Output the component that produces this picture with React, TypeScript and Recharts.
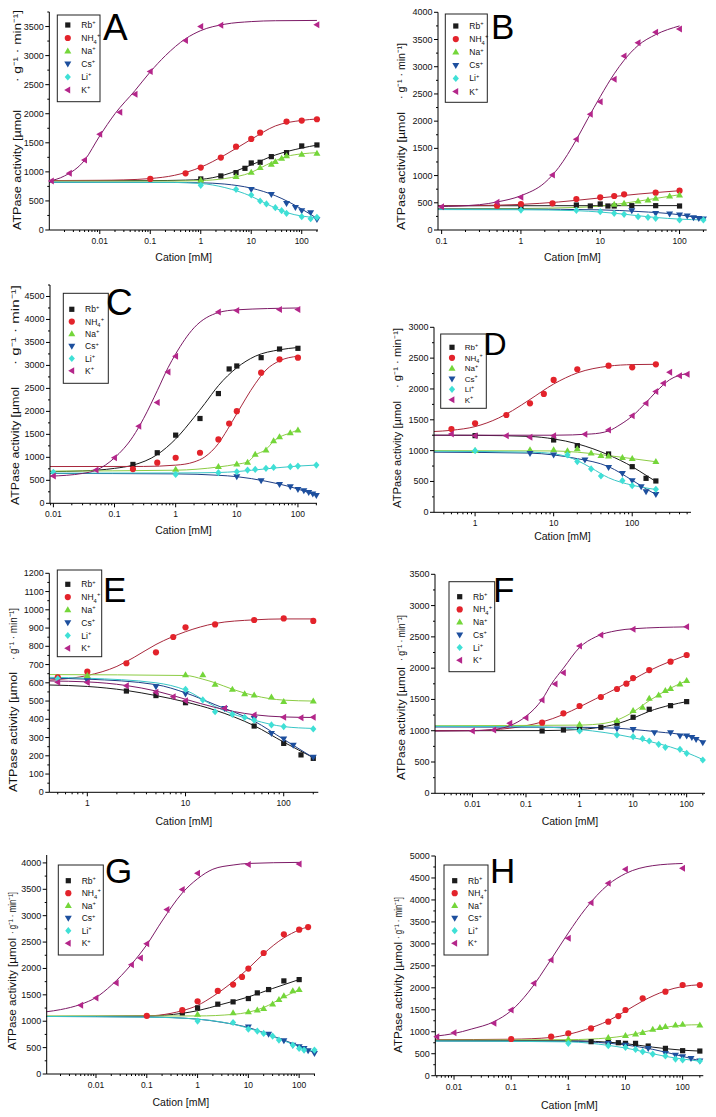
import React from 'react';
import { ComposedChart, Line, Scatter, XAxis, YAxis } from 'recharts';

type Pt = [number, number];

// ---------------- Panel A ----------------
const aRb: Pt[] = [[1,878],[2.5,930],[5,987],[7.5,1061],[10,1153],[15,1165],[25,1262],[50,1331],[100,1446],[200,1463]];
const aRbFit: Pt[] = [[0.001,850],[0.1,850],[0.5,858],[1,870],[3,950],[10,1120],[30,1290],[100,1410],[200,1460]];
const aNH4: Pt[] = [[0.1,878],[0.5,975],[1,1073],[2.5,1245],[5,1434],[10,1566],[15,1675],[50,1865],[100,1882],[200,1905]];
const aNH4Fit: Pt[] = [[0.001,850],[0.01,855],[0.03,862],[0.1,885],[0.3,940],[1,1080],[3,1290],[10,1560],[30,1790],[100,1885],[200,1910]];
const aNa: Pt[] = [[1,860],[5,918],[10,993],[15,1073],[25,1130],[30,1176],[40,1234],[50,1274],[100,1302],[200,1320]];
const aNaFit: Pt[] = [[0.001,840],[0.3,842],[1,850],[3,885],[10,990],[20,1120],[50,1265],[100,1310],[200,1330]];
const aCs: Pt[] = [[10,700],[25,614],[50,459],[75,390],[100,333],[150,298],[200,184]];
const aCsFit: Pt[] = [[0.001,820],[0.3,818],[1,812],[3,790],[10,720],[30,590],[100,360],[200,200]];
const aLi: Pt[] = [[1,769],[5,700],[10,602],[15,499],[20,448],[30,384],[40,333],[50,287],[100,230],[150,195],[200,218]];
const aLiFit: Pt[] = [[0.001,822],[0.3,818],[1,800],[3,730],[10,580],[20,450],[50,300],[100,240],[200,212]];
const aK: Pt[] = [[0.0011,843],[0.0025,975],[0.005,1205],[0.01,1647],[0.025,2026],[0.05,2335],[0.1,2725],[0.5,3259],[1,3500],[2.5,3523],[200,3529]];
const aKFit: Pt[] = [[0.001,840],[0.002,930],[0.005,1200],[0.01,1620],[0.02,2000],[0.05,2400],[0.1,2720],[0.2,3000],[0.5,3290],[1,3430],[3,3540],[10,3585],[30,3600],[200,3605]];

// ---------------- Panel B ----------------
const bRb: Pt[] = [[1,430],[5,459],[7.5,441],[10,478],[12.5,441],[15,441],[25,447],[50,447],[100,441]];
const bRbFit: Pt[] = [[0.09,445],[100,448]];
const bNH4: Pt[] = [[0.5,447],[1,478],[2.5,490],[5,570],[10,600],[15,625],[20,655],[50,686],[100,723]];
const bNH4Fit: Pt[] = [[0.09,440],[0.3,450],[1,470],[3,515],[10,590],[30,660],[100,722]];
const bNa: Pt[] = [[15,472],[20,490],[30,533],[40,551],[50,582],[75,625],[100,643]];
const bNaFit: Pt[] = [[0.09,390],[1,395],[5,415],[10,440],[20,492],[50,580],[100,648]];
const bCs: Pt[] = [[25,355],[50,306],[75,294],[100,276],[125,257],[150,227],[175,214],[200,202]];
const bCsFit: Pt[] = [[0.09,385],[1,383],[10,370],[30,340],[100,280],[200,205]];
const bLi: Pt[] = [[1,367],[5,361],[10,337],[15,306],[20,288],[30,245],[40,233],[50,214],[100,184],[200,184]];
const bLiFit: Pt[] = [[0.09,375],[1,372],[5,355],[10,330],[20,290],[50,230],[100,200],[200,185]];
const bK: Pt[] = [[0.1,429],[0.5,508],[1,600],[2.5,1011],[5,1666],[7.5,2125],[10,2358],[15,2768],[20,3197],[30,3442],[50,3632],[100,3693]];
const bKFit: Pt[] = [[0.09,430],[0.3,465],[0.5,515],[1,630],[2,870],[2.5,1010],[3,1150],[5,1660],[7,2050],[10,2450],[15,2870],[20,3120],[30,3390],[50,3590],[100,3750]];

// ---------------- Panel C ----------------
const cRb: Pt[] = [[0.2,846],[0.5,1100],[1,1483],[2.5,1845],[5,2388],[7.5,2923],[10,2988],[25,3169],[50,3357],[100,3372]];
const cRbFit: Pt[] = [[0.0088,690],[0.03,705],[0.1,760],[0.2,830],[0.5,1060],[1,1400],[2,1870],[3,2170],[5,2560],[10,2950],[20,3200],[50,3340],[100,3390]];
const cNH4: Pt[] = [[0.2,745],[0.5,883],[1,991],[2.5,1100],[5,1389],[7.5,1736],[10,2004],[25,2843],[50,3133],[100,3169]];
const cNH4Fit: Pt[] = [[0.0088,800],[0.3,802],[1,830],[2,900],[3,1010],[5,1300],[7,1600],[10,1950],[20,2600],[30,2900],[50,3100],[100,3200]];
const cNa: Pt[] = [[1,738],[5,796],[10,854],[15,890],[20,1064],[30,1158],[40,1360],[50,1447],[75,1534],[100,1592]];
const cNaFit: Pt[] = [[0.0088,700],[1,720],[5,790],[10,850],[15,900],[20,1050],[30,1170],[40,1350],[50,1440],[75,1530],[100,1595]];
const cCs: Pt[] = [[10,579],[25,492],[50,412],[75,362],[100,304],[125,275],[150,239],[175,203],[200,174]];
const cCsFit: Pt[] = [[0.0088,650],[1,640],[5,610],[10,580],[30,480],[100,310],[200,170]];
const cLi: Pt[] = [[0.01,673],[1,629],[5,666],[10,687],[15,724],[20,738],[30,760],[40,781],[75,796],[100,810],[200,832]];
const cLiFit: Pt[] = [[0.0088,655],[1,660],[5,670],[10,690],[30,750],[100,810],[200,832]];
const cK: Pt[] = [[0.01,593],[0.05,723],[0.1,991],[0.25,1678],[0.5,2192],[0.75,2858],[1,3198],[5,4160],[10,4196],[50,4218],[100,4218]];
const cKFit: Pt[] = [[0.0088,590],[0.03,650],[0.05,720],[0.1,990],[0.2,1450],[0.3,1850],[0.5,2450],[0.75,2950],[1,3250],[2,3820],[5,4150],[10,4210],[100,4250]];

// ---------------- Panel D ----------------
const dRb: Pt[] = [[1,1243],[10,1173],[20,1081],[50,946],[100,740],[150,551],[200,508]];
const dRbFit: Pt[] = [[0.3,1250],[1,1248],[5,1230],[10,1190],[20,1110],[50,930],[100,740],[150,600],[200,500]];
const dNH4: Pt[] = [[0.5,1351],[1,1443],[2.5,1578],[5,1767],[7.5,1919],[10,2146],[20,2319],[50,2378],[100,2351],[200,2400]];
const dNH4Fit: Pt[] = [[0.3,1310],[0.5,1330],[1,1390],[2,1530],[3,1650],[5,1830],[10,2080],[20,2260],[50,2370],[100,2395],[200,2400]];
const dNa: Pt[] = [[1,1000],[5,1011],[10,1011],[15,995],[20,1027],[30,962],[40,919],[50,913],[75,886],[100,870],[200,822]];
const dNaFit: Pt[] = [[0.3,1000],[10,995],[20,975],[50,920],[100,870],[200,820]];
const dCs: Pt[] = [[5,957],[10,930],[25,849],[50,730],[75,632],[100,513],[130,416],[150,335],[200,292]];
const dCsFit: Pt[] = [[0.3,975],[5,960],[10,930],[20,870],[50,740],[100,520],[150,380],[200,290]];
const dLi: Pt[] = [[1,1000],[15,930],[20,822],[30,703],[40,589],[75,513],[100,432],[200,373]];
const dLiFit: Pt[] = [[0.3,990],[5,975],[10,950],[15,900],[20,840],[30,720],[50,560],[100,440],[200,370]];
const dK: Pt[] = [[0.5,1270],[1,1243],[2.5,1243],[5,1216],[10,1243],[25,1265],[50,1335],[100,1567],[150,1767],[200,1957],[250,2092],[300,2270],[400,2216],[500,2238]];
const dKFit: Pt[] = [[0.3,1250],[10,1250],[30,1270],[50,1320],[70,1420],[100,1560],[150,1780],[200,1950],[300,2150],[500,2250]];

// ---------------- Panel E ----------------
const eRb: Pt[] = [[2.5,555],[5,530],[10,491],[50,363],[100,268],[150,205],[200,186]];
const eRbFit: Pt[] = [[0.41,588],[1,580],[2.5,558],[5,530],[10,495],[20,450],[50,365],[100,275],[200,190]];
const eNH4: Pt[] = [[0.5,630],[1,661],[2.5,707],[5,767],[7.5,851],[10,904],[20,920],[50,944],[100,953],[200,939]];
const eNH4Fit: Pt[] = [[0.41,615],[0.5,618],[1,640],[2,690],[3,740],[5,810],[10,880],[20,925],[50,945],[100,950],[200,950]];
const eNa: Pt[] = [[1,639],[10,643],[15,643],[20,592],[30,564],[40,539],[50,533],[75,521],[100,497],[200,500]];
const eNaFit: Pt[] = [[0.41,645],[10,640],[15,620],[20,600],[30,565],[50,530],[100,505],[200,500]];
const eCs: Pt[] = [[1,612],[5,579],[10,539],[25,460],[50,405],[75,323],[100,292],[125,259],[200,192]];
const eCsFit: Pt[] = [[0.41,625],[1,620],[5,590],[10,545],[20,480],[50,390],[100,290],[200,190]];
const eLi: Pt[] = [[0.5,622],[10,564],[15,506],[20,442],[30,427],[40,411],[50,396],[75,369],[100,360],[200,347]];
const eLiFit: Pt[] = [[0.41,630],[1,625],[5,600],[10,560],[20,470],[30,430],[50,395],[100,360],[200,350]];
const eK: Pt[] = [[0.5,603],[1,601],[2.5,584],[5,548],[7.5,524],[10,502],[25,460],[50,424],[100,411],[150,409],[200,411]];
const eKFit: Pt[] = [[0.41,610],[1,605],[2.5,585],[5,555],[10,510],[20,465],[50,425],[100,413],[200,410]];

// ---------------- Panel F ----------------
const fRb: Pt[] = [[0.2,996],[0.5,1012],[1,1023],[2.5,1055],[5,1119],[10,1215],[20,1343],[50,1401],[100,1465]];
const fRbFit: Pt[] = [[0.002,1000],[0.2,1002],[1,1020],[2,1045],[5,1110],[10,1200],[20,1310],[50,1410],[100,1465]];
const fNH4: Pt[] = [[0.2,1129],[0.5,1278],[1,1395],[2.5,1539],[5,1667],[7.5,1752],[10,1842],[20,1970],[50,2103],[100,2210]];
const fNH4Fit: Pt[] = [[0.002,1000],[0.01,1003],[0.05,1040],[0.1,1080],[0.2,1140],[0.5,1260],[1,1380],[2,1510],[5,1680],[10,1820],[20,1960],[50,2110],[100,2210]];
const fNa: Pt[] = [[1,1103],[5,1161],[10,1321],[15,1374],[20,1518],[30,1571],[40,1640],[50,1672],[75,1747],[100,1800]];
const fNaFit: Pt[] = [[0.002,1080],[1,1090],[3,1120],[5,1170],[10,1300],[20,1480],[50,1680],[100,1800]];
const fCs: Pt[] = [[5,1034],[10,1023],[25,970],[50,970],[75,916],[100,916],[125,895],[150,863],[200,810]];
const fCsFit: Pt[] = [[0.002,1060],[1,1055],[5,1040],[10,1020],[30,980],[100,920],[200,830]];
const fLi: Pt[] = [[1,996],[5,932],[10,905],[15,873],[20,836],[30,783],[40,735],[75,703],[100,639],[200,532]];
const fLiFit: Pt[] = [[0.002,1070],[0.1,1065],[1,1020],[3,970],[5,940],[10,890],[20,830],[50,740],[100,650],[200,540]];
const fK: Pt[] = [[0.01,996],[0.025,1012],[0.05,1119],[0.1,1209],[0.2,1491],[0.35,1747],[0.5,1928],[1,2354],[2.5,2530],[10,2620],[100,2663]];
const fKFit: Pt[] = [[0.002,995],[0.01,1000],[0.03,1030],[0.05,1080],[0.1,1230],[0.2,1500],[0.3,1750],[0.5,2000],[1,2330],[2,2500],[5,2600],[10,2630],[100,2660]];

// ---------------- Panel G ----------------
const gRb: Pt[] = [[0.5,1159],[1,1253],[2.5,1323],[5,1367],[10,1430],[15,1537],[25,1600],[50,1764],[100,1789]];
const gRbFit: Pt[] = [[0.00107,1090],[0.1,1100],[0.5,1150],[1,1200],[3,1320],[10,1460],[30,1620],[100,1790]];
const gNH4: Pt[] = [[0.1,1102],[0.5,1209],[1,1379],[2.5,1575],[5,1694],[7.5,1839],[10,1997],[20,2293],[50,2646],[100,2734],[150,2784]];
const gNH4Fit: Pt[] = [[0.00107,1090],[0.1,1100],[0.3,1150],[0.5,1200],[1,1300],[2,1470],[5,1750],[10,2000],[20,2280],[50,2580],[100,2730],[150,2790]];
const gNa: Pt[] = [[1,1128],[5,1159],[10,1178],[15,1209],[20,1241],[30,1323],[40,1411],[50,1480],[75,1575],[100,1600]];
const gNaFit: Pt[] = [[0.00107,1100],[1,1100],[5,1130],[10,1170],[20,1260],[50,1460],[100,1600]];
const gCs: Pt[] = [[10,894],[25,756],[50,630],[75,548],[100,517],[125,485],[150,441],[200,391]];
const gCsFit: Pt[] = [[0.00107,1090],[0.1,1080],[1,1040],[3,980],[10,880],[30,720],[100,530],[200,400]];
const gLi: Pt[] = [[1,1002],[5,976],[10,850],[15,813],[20,768],[30,718],[40,643],[75,548],[100,485],[125,454],[200,454]];
const gLiFit: Pt[] = [[0.00107,1090],[0.1,1078],[1,1040],[10,870],[30,710],[100,520],[200,420]];
const gK: Pt[] = [[0.005,1304],[0.01,1442],[0.025,1726],[0.05,2072],[0.075,2198],[0.1,2469],[0.25,3118],[0.5,3496],[1,3805],[10,3968],[100,3981]];
const gKFit: Pt[] = [[0.00107,1180],[0.002,1220],[0.005,1320],[0.01,1450],[0.02,1680],[0.05,2080],[0.1,2450],[0.2,2900],[0.5,3430],[1,3700],[2,3880],[5,3960],[10,3990],[100,4010]];

// ---------------- Panel H ----------------
const hRb: Pt[] = [[2.5,774],[5,759],[7.5,751],[10,736],[15,736],[25,675],[50,622],[100,569],[200,561]];
const hRbFit: Pt[] = [[0.0047,800],[1,795],[3,780],[10,730],[30,650],[100,580],[200,560]];
const hNH4: Pt[] = [[0.1,835],[0.5,888],[1,964],[2.5,1077],[5,1229],[7.5,1358],[10,1495],[20,1760],[50,1912],[100,2064],[200,2064]];
const hNH4Fit: Pt[] = [[0.0047,820],[0.1,830],[0.5,870],[1,940],[2,1050],[5,1250],[10,1470],[20,1700],[50,1930],[100,2030],[200,2070]];
const hNa: Pt[] = [[1,835],[5,865],[10,910],[15,948],[20,979],[30,1055],[40,1093],[50,1115],[75,1153],[100,1168],[200,1153]];
const hNaFit: Pt[] = [[0.0047,810],[1,820],[5,860],[10,910],[20,990],[50,1100],[100,1150],[200,1160]];
const hCs: Pt[] = [[5,736],[10,698],[25,622],[50,508],[75,470],[100,432],[140,395],[200,334]];
const hCsFit: Pt[] = [[0.0047,790],[1,780],[5,740],[10,700],[30,600],[100,440],[200,340]];
const hLi: Pt[] = [[1,736],[5,683],[10,645],[15,599],[20,546],[30,493],[50,448],[75,379],[100,357],[200,334]];
const hLiFit: Pt[] = [[0.0047,790],[1,770],[5,690],[10,630],[20,550],[50,440],[100,380],[200,330]];
const hK: Pt[] = [[0.005,888],[0.01,979],[0.05,1191],[0.1,1495],[0.25,2102],[0.5,2633],[1,3126],[2.5,3938],[5,4378],[10,4696],[100,4719]];
const hKFit: Pt[] = [[0.0047,900],[0.01,960],[0.02,1060],[0.05,1230],[0.1,1480],[0.2,1900],[0.5,2650],[1,3250],[2,3800],[5,4350],[10,4600],[30,4780],[100,4830]];

// ---------------- tick labels ----------------
const ticks5 = [0.01, 0.1, 1, 10, 100];
const labels5 = ['0.01', '0.1', '1', '10', '100'];
const ticks4 = [0.1, 1, 10, 100];
const labels4 = ['0.1', '1', '10', '100'];
const ticks3 = [1, 10, 100];
const labels3 = ['1', '10', '100'];

const SERIES_LABELS = ['Rb', 'NH4', 'Na', 'Cs', 'Li', 'K'];
const MARK_FILL = ['#1c1c1c', '#e3232b', '#74d63a', '#1d4f9e', '#3fe0d6', '#b4268a'];
const LINE_STROKE = ['#1a1a1a', '#a8283c', '#8ccc44', '#1e3f86', '#38c6c6', '#7c1a66'];
const FONT = '"Liberation Sans", Arial, Helvetica, sans-serif';
const Y_TITLE_1 = 'ATPase activity [µmol';
const Y_TITLE_2 = '· g\u207B\u00B9 · min\u207B\u00B9]';
const X_TITLE = 'Cation [mM]';

interface PanelCfg {
  letter: string;
  left: number; top: number; width: number; height: number;
  x0: number; x1: number; y0: number; y1: number;
  xDomain: [number, number];
  xMajor: number[]; xLabels: string[];
  yMax: number; yStep: number; yMinor: number; tickCount: number;
  pts: Pt[][]; fits: Pt[][];
  legend: { x: number; y: number; w: number; h: number; first: number; gap: number; mx: number; tx: number; fs: number };
  letterPos: { x: number; y: number; fs: number };
  yTitle: { x: number; bottom: number; top: number; fs: number; l1: number; l2: number };
  xTitleDy: number;
}

const PANELS: PanelCfg[] = [
  {
    letter: 'A', left: 0, top: 0, width: 358, height: 275,
    x0: 49.3, x1: 318, y0: 12, y1: 230, xDomain: [0.001, 210], xMajor: ticks5, xLabels: labels5,
    yMax: 3750, yStep: 500, yMinor: 250, tickCount: 16,
    pts: [aRb, aNH4, aNa, aCs, aLi, aK], fits: [aRbFit, aNH4Fit, aNaFit, aCsFit, aLiFit, aKFit],
    legend: { x: 57.3, y: 15, w: 42.7, h: 86.7, first: 25, gap: 13, mx: 10.5, tx: 24, fs: 8.5 },
    letterPos: { x: 103, y: 40, fs: 37 }, yTitle: { x: 17, bottom: 230, top: 10, fs: 11.5, l1: 120, l2: 72 }, xTitleDy: 31,
  },
  {
    letter: 'B', left: 358, top: 0, width: 358, height: 275,
    x0: 438, x1: 706.7, y0: 12.3, y1: 230, xDomain: [0.09, 220], xMajor: ticks4, xLabels: labels4,
    yMax: 4000, yStep: 500, yMinor: 250, tickCount: 9,
    pts: [bRb, bNH4, bNa, bCs, bLi, bK], fits: [bRbFit, bNH4Fit, bNaFit, bCsFit, bLiFit, bKFit],
    legend: { x: 445.3, y: 14, w: 42, h: 88.3, first: 26, gap: 13.1, mx: 10.5, tx: 24, fs: 8.5 },
    letterPos: { x: 491, y: 39.3, fs: 35 }, yTitle: { x: 401, bottom: 230, top: 43, fs: 11.5, l1: 118, l2: 56 }, xTitleDy: 30.5,
  },
  {
    letter: 'C', left: 0, top: 275, width: 358, height: 270,
    x0: 50, x1: 317, y0: 285, y1: 503.3, xDomain: [0.0088, 205], xMajor: ticks5, xLabels: labels5,
    yMax: 4750, yStep: 500, yMinor: 250, tickCount: 20,
    pts: [cRb, cNH4, cNa, cCs, cLi, cK], fits: [cRbFit, cNH4Fit, cNaFit, cCsFit, cLiFit, cKFit],
    legend: { x: 63.3, y: 293.3, w: 45, h: 90, first: 309.3, gap: 12.3, mx: 8.5, tx: 21.7, fs: 8.5 },
    letterPos: { x: 106, y: 314.5, fs: 37 }, yTitle: { x: 15, bottom: 505, top: 285, fs: 11.5, l1: 118, l2: 80 }, xTitleDy: 30.5,
  },
  {
    letter: 'D', left: 358, top: 275, width: 358, height: 270,
    x0: 434, x1: 691, y0: 327.3, y1: 512.3, xDomain: [0.3, 560], xMajor: ticks3, xLabels: labels3,
    yMax: 3000, yStep: 500, yMinor: 250, tickCount: 7,
    pts: [dRb, dNH4, dNa, dCs, dLi, dK], fits: [dRbFit, dNH4Fit, dNaFit, dCsFit, dLiFit, dKFit],
    legend: { x: 440.7, y: 334, w: 45.6, h: 74.3, first: 347.3, gap: 10.5, mx: 11.3, tx: 24, fs: 8 },
    letterPos: { x: 483.5, y: 355, fs: 32 }, yTitle: { x: 397, bottom: 508, top: 328, fs: 10.5, l1: 107, l2: 60 }, xTitleDy: 28,
  },
  {
    letter: 'E', left: 0, top: 545, width: 358, height: 285,
    x0: 49.3, x1: 318.3, y0: 573.3, y1: 792.3, xDomain: [0.41, 225], xMajor: ticks3, xLabels: labels3,
    yMax: 1200, yStep: 100, yMinor: 50, tickCount: 13,
    pts: [eRb, eNH4, eNa, eCs, eLi, eK], fits: [eRbFit, eNH4Fit, eNaFit, eCsFit, eLiFit, eKFit],
    legend: { x: 57.3, y: 570, w: 44.4, h: 86.7, first: 584.3, gap: 12.8, mx: 10.5, tx: 24, fs: 8.5 },
    letterPos: { x: 103, y: 601.7, fs: 35 }, yTitle: { x: 13, bottom: 792, top: 608, fs: 11.5, l1: 120, l2: 52 }, xTitleDy: 32.5,
  },
  {
    letter: 'F', left: 358, top: 545, width: 358, height: 285,
    x0: 435, x1: 705, y0: 574.3, y1: 793.3, xDomain: [0.002, 220], xMajor: ticks5, xLabels: labels5,
    yMax: 3500, yStep: 500, yMinor: 250, tickCount: 8,
    pts: [fRb, fNH4, fNa, fCs, fLi, fK], fits: [fRbFit, fNH4Fit, fNaFit, fCsFit, fLiFit, fKFit],
    legend: { x: 449, y: 581.7, w: 45.7, h: 90, first: 596.7, gap: 12.7, mx: 10.7, tx: 24, fs: 8.5 },
    letterPos: { x: 493, y: 601.7, fs: 35 }, yTitle: { x: 401, bottom: 780, top: 615, fs: 11, l1: 113, l2: 46 }, xTitleDy: 32,
  },
  {
    letter: 'G', left: 0, top: 830, width: 358, height: 287,
    x0: 46.7, x1: 315, y0: 855, y1: 1074, xDomain: [0.00107, 205], xMajor: ticks5, xLabels: labels5,
    yMax: 4150, yStep: 500, yMinor: 250, tickCount: 84,
    pts: [gRb, gNH4, gNa, gCs, gLi, gK], fits: [gRbFit, gNH4Fit, gNaFit, gCsFit, gLiFit, gKFit],
    legend: { x: 58.3, y: 865, w: 45, h: 90, first: 880.7, gap: 12.5, mx: 10, tx: 23.4, fs: 8.5 },
    letterPos: { x: 105, y: 883.3, fs: 35 }, yTitle: { x: 12, bottom: 1050, top: 892, fs: 11, l1: 112, l2: 42 }, xTitleDy: 31.5,
  },
  {
    letter: 'H', left: 358, top: 830, width: 358, height: 287,
    x0: 435.3, x1: 703.3, y0: 856, y1: 1075.7, xDomain: [0.0047, 230], xMajor: ticks5, xLabels: labels5,
    yMax: 5000, yStep: 500, yMinor: 250, tickCount: 11,
    pts: [hRb, hNH4, hNa, hCs, hLi, hK], fits: [hRbFit, hNH4Fit, hNaFit, hCsFit, hLiFit, hKFit],
    legend: { x: 444, y: 865, w: 44, h: 90, first: 880.7, gap: 12.5, mx: 10.7, tx: 24, fs: 8.5 },
    letterPos: { x: 490, y: 883.3, fs: 35 }, yTitle: { x: 398, bottom: 1053, top: 897, fs: 11, l1: 111, l2: 42 }, xTitleDy: 33,
  },
];

function logTickPositions(lo: number, hi: number): number[] {
  const out: number[] = [];
  for (let d = Math.floor(Math.log10(lo)); d <= Math.ceil(Math.log10(hi)); d++) {
    for (let k = 1; k <= 9; k++) {
      const v = parseFloat((k * Math.pow(10, d)).toPrecision(6));
      if (v > lo * 1.0001 && v < hi / 1.0001) out.push(v);
    }
  }
  return out;
}

function Marker({ kind, cx, cy }: { kind: number; cx: number; cy: number }) {
  const fill = MARK_FILL[kind];
  if (cx == null || cy == null || isNaN(cx) || isNaN(cy)) return null;
  switch (kind) {
    case 0:
      return <rect x={cx - 2.6} y={cy - 2.6} width={5.2} height={5.2} fill={fill} />;
    case 1:
      return <circle cx={cx} cy={cy} r={3.1} fill={fill} />;
    case 2:
      return <polygon points={`${cx},${cy - 3.6} ${cx + 3.5},${cy + 2.4} ${cx - 3.5},${cy + 2.4}`} fill={fill} />;
    case 3:
      return <polygon points={`${cx},${cy + 3.6} ${cx + 3.5},${cy - 2.4} ${cx - 3.5},${cy - 2.4}`} fill={fill} />;
    case 4:
      return <polygon points={`${cx},${cy - 3.6} ${cx + 3.1},${cy} ${cx},${cy + 3.6} ${cx - 3.1},${cy}`} fill={fill} />;
    default:
      return <polygon points={`${cx - 3.6},${cy} ${cx + 2.4},${cy - 3.5} ${cx + 2.4},${cy + 3.5}`} fill={fill} />;
  }
}

function PanelChart({ p }: { p: PanelCfg }) {
  const xAxisH = p.top + p.height - p.y1;
  const yAxisW = p.x0 - p.left;
  const margin = { top: p.y0 - p.top, right: p.left + p.width - p.x1, bottom: 0, left: 0 };
  const plotBottom = p.y1 - p.top;
  const plotLeft = p.x0 - p.left;
  const xTicks = logTickPositions(p.xDomain[0], p.xDomain[1]);
  const yTicks: number[] = [];
  for (let v = 0; v <= p.yMax + 1e-6; v += p.yMinor) yTicks.push(v);

  const renderX = (props: any) => {
    const v = props.payload.value;
    const idx = p.xMajor.findIndex((m) => Math.abs(m - v) / m < 1e-6);
    const major = idx >= 0;
    const x = props.x;
    return (
      <g>
        <line x1={x} x2={x} y1={plotBottom} y2={plotBottom + (major ? 4 : 2)} stroke="#000" strokeWidth={1} />
        {major ? (
          <text x={x} y={plotBottom + 14} textAnchor="middle" fontSize={8.5} fontFamily={FONT} fill="#111">
            {p.xLabels[idx]}
          </text>
        ) : null}
      </g>
    );
  };

  const renderY = (props: any) => {
    const v = props.payload.value;
    const major = Math.abs(v / p.yStep - Math.round(v / p.yStep)) < 1e-6;
    const y = props.y;
    return (
      <g>
        <line x1={plotLeft} x2={plotLeft - (major ? 4 : 2)} y1={y} y2={y} stroke="#000" strokeWidth={1} />
        {major ? (
          <text x={plotLeft - 5.5} y={y + 3} textAnchor="end" fontSize={9} fontFamily={FONT} fill="#111">
            {String(Math.round(v))}
          </text>
        ) : null}
      </g>
    );
  };

  return (
    <div style={{ position: 'absolute', left: p.left, top: p.top, width: p.width, height: p.height }}>
      <ComposedChart width={p.width} height={p.height} margin={margin}>
        <XAxis
          type="number"
          dataKey="x"
          scale="log"
          domain={p.xDomain}
          ticks={xTicks}
          interval={0}
          tickLine={false}
          axisLine={{ stroke: '#000', strokeWidth: 1 }}
          height={xAxisH}
          tick={renderX}
        />
        <YAxis
          type="number"
          dataKey="y"
          domain={[0, p.yMax]}
          ticks={yTicks}
          tickCount={p.tickCount}
          interval={0}
          tickLine={false}
          axisLine={{ stroke: '#000', strokeWidth: 1 }}
          width={yAxisW}
          tick={renderY}
        />
        {p.fits.map((f, i) => (
          <Line
            key={'fit' + i}
            data={f.map(([x, y]) => ({ x, y }))}
            dataKey="y"
            type="monotone"
            stroke={LINE_STROKE[i]}
            strokeWidth={1}
            dot={false}
            activeDot={false}
            isAnimationActive={false}
          />
        ))}
        {p.pts.map((s, i) => (
          <Scatter
            key={'pts' + i}
            name={SERIES_LABELS[i]}
            data={s.map(([x, y]) => ({ x, y }))}
            dataKey="y"
            isAnimationActive={false}
            shape={(sp: any) => <Marker kind={i} cx={sp.cx} cy={sp.cy} />}
          />
        ))}
      </ComposedChart>
    </div>
  );
}

function LegendLabel({ i, x, y, fs }: { i: number; x: number; y: number; fs: number }) {
  const small = fs * 0.68;
  if (i === 1) {
    return (
      <text x={x} y={y} fontSize={fs} fontFamily={FONT} fill="#111">
        NH
        <tspan fontSize={small} dy={2.6}>4</tspan>
        <tspan fontSize={small} dy={-6.4} dx={0.2}>+</tspan>
      </text>
    );
  }
  const base = ['Rb', '', 'Na', 'Cs', 'Li', 'K'][i];
  return (
    <text x={x} y={y} fontSize={fs} fontFamily={FONT} fill="#111">
      {base}
      <tspan fontSize={small} dy={-3.6}>+</tspan>
    </text>
  );
}

function Overlay() {
  return (
    <svg width={716} height={1117} style={{ position: 'absolute', left: 0, top: 0, pointerEvents: 'none' }}>
      {PANELS.map((p) => {
        const L = p.legend;
        const T = p.yTitle;
        const span = T.bottom - T.top;
        return (
          <g key={p.letter}>
            <rect x={L.x} y={L.y} width={L.w} height={L.h} fill="#fff" stroke="#222" strokeWidth={1} />
            {SERIES_LABELS.map((_, i) => {
              const ry = L.first + i * L.gap;
              return (
                <g key={i}>
                  <Marker kind={i} cx={L.x + L.mx} cy={ry} />
                  <LegendLabel i={i} x={L.x + L.tx} y={ry + L.fs * 0.36} fs={L.fs} />
                </g>
              );
            })}
            <text x={p.letterPos.x} y={p.letterPos.y} fontSize={p.letterPos.fs} fontFamily={FONT} fill="#000">
              {p.letter}
            </text>
            <text
              x={(p.x0 + p.x1) / 2}
              y={p.y1 + p.xTitleDy}
              textAnchor="middle"
              fontSize={10.5}
              fontFamily={FONT}
              fill="#111"
            >
              {X_TITLE}
            </text>
            <g transform={`translate(${T.x},${T.bottom}) rotate(-90)`}>
              <text
                x={0}
                y={T.fs * 0.36}
                fontSize={T.fs}
                fontFamily={FONT}
                fill="#111"
                textLength={T.l1}
                lengthAdjust="spacingAndGlyphs"
              >
                {Y_TITLE_1}
              </text>
              <text
                x={span - T.l2}
                y={T.fs * 0.36}
                fontSize={T.fs}
                fontFamily={FONT}
                fill="#111"
                textLength={T.l2}
                lengthAdjust="spacingAndGlyphs"
              >
                {Y_TITLE_2}
              </text>
            </g>
          </g>
        );
      })}
    </svg>
  );
}

export default function App() {
  return (
    <div
      style={{
        position: 'absolute',
        left: 0,
        top: 0,
        width: 716,
        height: 1117,
        background: '#fff',
        overflow: 'hidden',
        fontFamily: FONT,
      }}
    >
      {PANELS.map((p) => (
        <PanelChart key={p.letter} p={p} />
      ))}
      <Overlay />
    </div>
  );
}
